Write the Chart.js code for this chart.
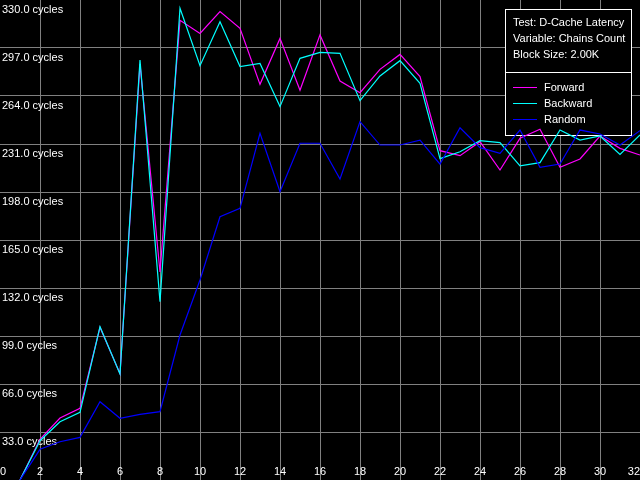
<!DOCTYPE html>
<html>
<head>
<meta charset="utf-8">
<title>D-Cache Latency</title>
<script src="https://cdn.jsdelivr.net/npm/chart.js@4/dist/chart.umd.min.js"></script>
<style>
  html, body { margin: 0; padding: 0; background: #000; }
  #chart { display: block; }
</style>
</head>
<body>
<canvas id="chart" width="640" height="480"></canvas>
<script>
const chains = [1, 2, 3, 4, 5, 6, 7, 8, 9, 10, 11, 12, 13, 14, 15, 16, 17, 18, 19, 20, 21, 22, 23, 24, 25, 26, 27, 28, 29, 30, 31, 32];
const forward = [0, 28, 42.6, 49.3, 105, 73, 286, 143, 316, 307, 322, 310.5, 272, 303.6, 268, 306, 274.3, 266.3, 282.3, 292.6, 277.3, 226.4, 223, 232.6, 213.1, 234.9, 241.1, 215, 220.7, 236.5, 228, 223.4];
const backward = [0, 27, 40, 46.5, 105.4, 72.9, 288.7, 122.6, 324.3, 284.8, 315.1, 284.2, 286.4, 256.7, 289.9, 294, 293.3, 260.8, 277.8, 288.3, 272.7, 220.9, 225.7, 233.3, 231.9, 215.9, 218.2, 240.6, 233.7, 236.5, 223.9, 237.2];
const random = [0, 21.1, 26.3, 29.3, 53.8, 42.4, 45.1, 47, 99.7, 137.5, 181, 186.8, 238.3, 198.2, 231.5, 231.5, 206.9, 246.4, 230.3, 230.3, 233.7, 217.2, 242.2, 228.5, 224.6, 240.6, 215, 217.2, 240.6, 237.9, 230.3, 240.2];

const infoLines = ['Test: D-Cache Latency', 'Variable: Chains Count', 'Block Size: 2.00K'];
const seriesNames = ['Forward', 'Backward', 'Random'];
const seriesColors = ['#ff00ff', '#00ffff', '#0000ff'];

const FONT = '11px "Liberation Sans", Arial, sans-serif';

function toPoints(values) {
  return values.map((v, i) => ({ x: chains[i], y: v }));
}

// info box top right, filled black so the grid stops at its edge
const infoBox = {
  id: 'infoBox',
  beforeDatasetsDraw(chart) {
    const ctx = chart.ctx;
    ctx.save();
    ctx.fillStyle = '#000';
    ctx.fillRect(505, 9, 127, 127);
    ctx.strokeStyle = '#fff';
    ctx.lineWidth = 1;
    ctx.strokeRect(505.5, 9.5, 126, 126);
    ctx.beginPath();
    ctx.moveTo(505, 72.5);
    ctx.lineTo(632, 72.5);
    ctx.stroke();
    ctx.font = FONT;
    ctx.textBaseline = 'middle';
    ctx.fillStyle = '#fff';
    infoLines.forEach((t, i) => ctx.fillText(t, 513, 23 + i * 16));
    seriesNames.forEach((name, i) => {
      const y = 87 + i * 16;
      ctx.fillStyle = seriesColors[i];
      ctx.fillRect(513, y, 24, 1);
      ctx.fillStyle = '#fff';
      ctx.fillText(name, 544, y + 0.5);
    });
    ctx.restore();
  }
};

function noEdges(scale) {
  scale.paddingLeft = 0;
  scale.paddingRight = 0;
  scale.paddingTop = 0;
  scale.paddingBottom = 0;
  if (scale.isHorizontal()) scale.height = 0; else scale.width = 0;
}

const gridColor = ctx => (ctx.index === 0 || ctx.index === ctx.scale.ticks.length - 1) ? 'transparent' : '#808080';

new Chart(document.getElementById('chart'), {
  type: 'line',
  data: {
    datasets: seriesNames.map((name, i) => ({
      label: name,
      data: toPoints([forward, backward, random][i]),
      borderColor: seriesColors[i],
      borderWidth: 1.2,
      pointRadius: 0,
      tension: 0,
      fill: false,
      order: 2 - i
    }))
  },
  options: {
    responsive: false,
    animation: false,
    layout: { padding: 0 },
    plugins: { legend: { display: false }, tooltip: { enabled: false } },
    scales: {
      x: {
        type: 'linear',
        min: 0,
        max: 32,
        border: { display: false },
        grid: { color: gridColor, drawTicks: false, lineWidth: 1 },
        ticks: {
          stepSize: 2,
          autoSkip: false,
          mirror: true,
          align: 'inner',
          padding: 1,
          color: '#fff',
          font: { family: '"Liberation Sans", Arial, sans-serif', size: 11 },
          maxRotation: 0
        },
        afterFit: noEdges
      },
      y: {
        min: 0,
        max: 330,
        border: { display: false },
        grid: { color: gridColor, drawTicks: false, lineWidth: 1 },
        ticks: {
          stepSize: 33,
          autoSkip: false,
          mirror: true,
          padding: 2,
          labelOffset: 9.5,
          color: '#fff',
          font: { family: '"Liberation Sans", Arial, sans-serif', size: 11 },
          callback: v => v === 0 ? '' : v.toFixed(1) + ' cycles'
        },
        afterFit: noEdges
      }
    }
  },
  plugins: [infoBox]
});
</script>
</body>
</html>
